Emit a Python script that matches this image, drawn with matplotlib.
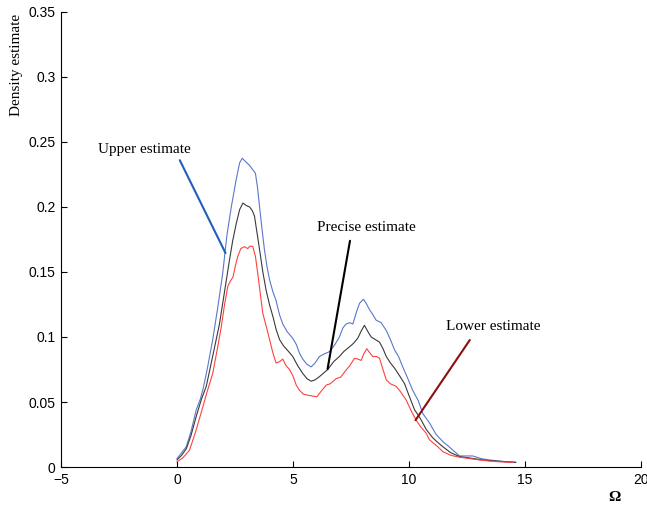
import numpy as np
import matplotlib
matplotlib.use("Agg")
import matplotlib.pyplot as plt

# upper estimate (blue)
x_up = [0.0, 0.2, 0.4, 0.6, 0.83, 1.0, 1.11, 1.3, 1.54, 1.75, 1.97, 2.15, 2.34, 2.55, 2.7,
        2.81, 2.95, 3.13, 3.25, 3.38, 3.47, 3.56, 3.67, 3.77, 3.88, 3.99, 4.13, 4.27, 4.42,
        4.56, 4.75, 4.85, 4.99, 5.15, 5.28, 5.42, 5.6, 5.78, 5.95, 6.14, 6.35, 6.57, 6.8, 7.0,
        7.15, 7.29, 7.45, 7.58, 7.75, 7.87, 8.04, 8.15, 8.3, 8.45, 8.58, 8.8, 9.02, 9.2, 9.38,
        9.55, 9.73, 9.95, 10.16, 10.4, 10.6, 10.88, 11.17, 11.46, 11.7, 11.89, 12.18, 12.5,
        12.75, 13.1, 13.47, 13.8, 14.19, 14.6]
y_up = [0.0065, 0.011, 0.0156, 0.027, 0.044, 0.052, 0.059, 0.075, 0.098, 0.122, 0.149, 0.178,
        0.200, 0.221, 0.234, 0.2375, 0.235, 0.232, 0.229, 0.226, 0.215, 0.200, 0.182, 0.167,
        0.154, 0.144, 0.135, 0.128, 0.117, 0.110, 0.104, 0.102, 0.099, 0.094, 0.0875, 0.083,
        0.079, 0.077, 0.080, 0.085, 0.087, 0.0887, 0.094, 0.100, 0.107, 0.110, 0.111, 0.110,
        0.120, 0.126, 0.129, 0.126, 0.121, 0.117, 0.113, 0.111, 0.105, 0.098, 0.090, 0.085,
        0.077, 0.068, 0.059, 0.051, 0.041, 0.034, 0.025, 0.0195, 0.016, 0.013, 0.0085, 0.0085,
        0.0085, 0.0065, 0.0054, 0.0048, 0.004, 0.0036]

# precise estimate (black)
x_mid = [0.0, 0.2, 0.4, 0.6, 0.83, 1.05, 1.26, 1.5, 1.83, 2.05, 2.26, 2.4, 2.55, 2.7, 2.84,
         3.0, 3.13, 3.25, 3.34, 3.45, 3.56, 3.7, 3.84, 4.0, 4.13, 4.27, 4.42, 4.6, 4.8, 4.99,
         5.2, 5.42, 5.6, 5.78, 5.95, 6.14, 6.3, 6.5, 6.75, 7.0, 7.2, 7.44, 7.6, 7.79, 7.95,
         8.08, 8.2, 8.37, 8.55, 8.73, 8.88, 9.02, 9.2, 9.38, 9.6, 9.81, 10.0, 10.24, 10.5,
         10.74, 11.0, 11.17, 11.46, 11.8, 12.18, 12.6, 13.18, 13.8, 14.6]
y_mid = [0.0055, 0.009, 0.014, 0.024, 0.039, 0.052, 0.062, 0.082, 0.110, 0.135, 0.159, 0.174,
         0.187, 0.198, 0.203, 0.201, 0.200, 0.197, 0.193, 0.180, 0.167, 0.150, 0.136, 0.124,
         0.116, 0.106, 0.098, 0.093, 0.089, 0.085, 0.078, 0.072, 0.068, 0.066, 0.067, 0.0695,
         0.072, 0.075, 0.081, 0.085, 0.089, 0.0925, 0.095, 0.099, 0.105, 0.109, 0.105, 0.100,
         0.098, 0.096, 0.091, 0.085, 0.080, 0.076, 0.070, 0.064, 0.055, 0.044, 0.037, 0.029,
         0.023, 0.020, 0.0156, 0.011, 0.008, 0.007, 0.0054, 0.0045, 0.0036]

# lower estimate (red)
x_lo = [0.0, 0.25, 0.54, 0.8, 1.11, 1.3, 1.54, 1.75, 1.91, 2.05, 2.19, 2.3, 2.41, 2.52, 2.62,
        2.75, 2.91, 3.05, 3.15, 3.27, 3.38, 3.48, 3.6, 3.7, 3.85, 3.99, 4.13, 4.27, 4.42, 4.56,
        4.7, 4.85, 5.0, 5.14, 5.28, 5.45, 5.71, 6.03, 6.2, 6.43, 6.6, 6.86, 7.05, 7.29, 7.45,
        7.65, 7.8, 7.94, 8.05, 8.18, 8.3, 8.44, 8.6, 8.73, 8.88, 9.02, 9.2, 9.45, 9.59, 9.88,
        10.1, 10.31, 10.5, 10.74, 10.88, 11.24, 11.46, 11.8, 12.18, 12.6, 13.05, 13.5, 13.9, 14.5]
y_lo = [0.004, 0.007, 0.013, 0.027, 0.046, 0.058, 0.072, 0.092, 0.108, 0.125, 0.139, 0.143,
        0.146, 0.155, 0.162, 0.168, 0.1695, 0.168, 0.170, 0.1695, 0.162, 0.149, 0.132, 0.118,
        0.108, 0.098, 0.088, 0.080, 0.081, 0.083, 0.078, 0.075, 0.070, 0.063, 0.059, 0.056,
        0.055, 0.054, 0.058, 0.063, 0.064, 0.068, 0.069, 0.0746, 0.078, 0.0836, 0.083, 0.082,
        0.087, 0.091, 0.088, 0.085, 0.085, 0.0836, 0.075, 0.067, 0.064, 0.062, 0.059, 0.0515,
        0.043, 0.036, 0.031, 0.026, 0.021, 0.0156, 0.0118, 0.009, 0.0075, 0.0065, 0.0054,
        0.0045, 0.004, 0.0036]

x_ticks = [-5, 0, 5, 10, 15, 20]
y_ticks = [0, 0.05, 0.1, 0.15, 0.2, 0.25, 0.3, 0.35]
y_ticklabels = ["0", "0.05", "0.1", "0.15", "0.2", "0.25", "0.3", "0.35"]

serif = ["Liberation Serif", "DejaVu Serif"]
sans = ["Liberation Sans", "DejaVu Sans"]

fig = plt.figure(figsize=(6.47, 5.08), dpi=100)
ax = fig.add_axes([0.0943, 0.0807, 0.8964, 0.8957])

ax.plot(x_up, y_up, color="#5a78c8", lw=0.8)
ax.plot(x_mid, y_mid, color="#3a3a3a", lw=0.8)
ax.plot(x_lo, y_lo, color="#ff4040", lw=0.8)

ax.set_xlim(-5, 20)
ax.set_ylim(0, 0.35)
ax.set_xticks(x_ticks)
ax.set_yticks(y_ticks)
ax.set_yticklabels(y_ticklabels)
for lab in ax.get_xticklabels() + ax.get_yticklabels():
    lab.set_family(sans)
    lab.set_fontsize(10)
ax.tick_params(direction="in", length=4, width=0.8, pad=4)
ax.spines["top"].set_visible(False)
ax.spines["right"].set_visible(False)
ax.spines["left"].set_linewidth(0.8)
ax.spines["bottom"].set_linewidth(0.8)

ax.text(-0.077, 0.309, "Density estimate", family=serif, fontsize=11, rotation=90,
        ha="center", va="center", transform=ax.get_yaxis_transform())
ax.text(18.86, -0.066, "Ω", family=serif, fontsize=11, fontweight="bold",
        ha="center", va="center", transform=ax.get_xaxis_transform())

ax.annotate("Upper estimate", xy=(2.09, 0.1646), xytext=(-1.4, 0.244),
            family=serif, fontsize=11, ha="center", va="center",
            arrowprops=dict(arrowstyle="-", color="#1f5fbf", lw=1.5,
                            shrinkA=0, shrinkB=0, relpos=(0.88, -0.3)))
ax.annotate("Precise estimate", xy=(6.49, 0.0754), xytext=(8.18, 0.184),
            family=serif, fontsize=11, ha="center", va="center",
            arrowprops=dict(arrowstyle="-", color="black", lw=1.5,
                            shrinkA=0, shrinkB=0, relpos=(0.33, -0.5)))
ax.annotate("Lower estimate", xy=(10.28, 0.036), xytext=(13.64, 0.1077),
            family=serif, fontsize=11, ha="center", va="center",
            arrowprops=dict(arrowstyle="-", color="#8b1010", lw=1.5,
                            shrinkA=0, shrinkB=0, relpos=(0.25, -0.5)))

fig.savefig("out.png", dpi=100)
